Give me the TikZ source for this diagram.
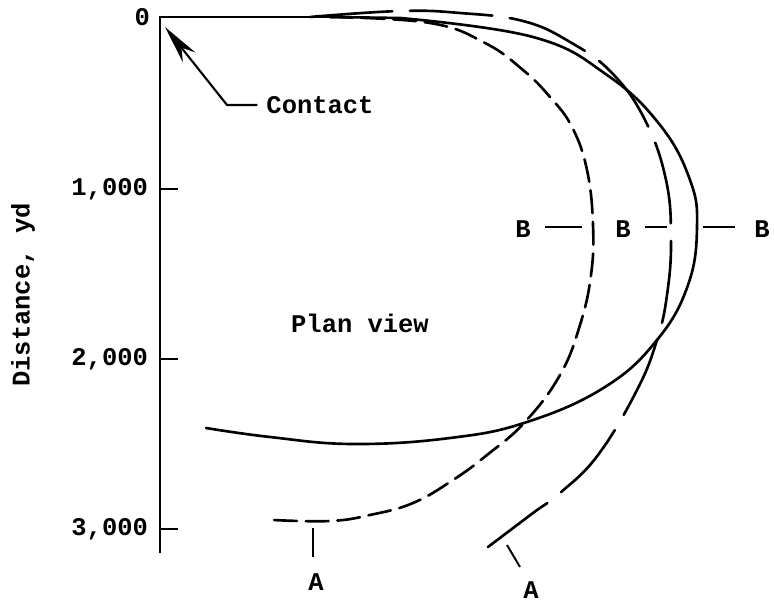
\documentclass[tikz,border=0pt]{standalone}
\usepackage{fontspec}
\setmainfont{Liberation Mono}
\usetikzlibrary{arrows.meta}

\begin{document}
\begin{tikzpicture}[
  x=0.02cm, y=-0.02cm,
  font=\fontsize{14.5}{17}\selectfont\bfseries,
  curve/.style={line width=1.5pt, line join=round, line cap=round},
  shortdash/.style={curve, dash pattern=on 13pt off 5pt},
  longdash/.style={curve, dash pattern=on 47pt off 10pt},
  lead/.style={line width=1.1pt},
  lab/.style={inner sep=1pt}
]
  \useasboundingbox (0,0) rectangle (774,605);

  % axis
  \coordinate (o) at (160,17);
  \coordinate (axend) at (160,553);
  \draw[line width=1.4pt] (axend) -- (o) -- (330,17);
  \node[lab, left] (t0) at (152,17) {0};
  \foreach \y/\t in {1/{1,000}, 2/{2,000}, 3/{3,000}} {
    \coordinate (k\y) at (160,19+170*\y);
    \draw[line width=1.2pt] (k\y) -- ++(18,0);
    \node[lab, left] (t\y) at (150,19+170*\y) {\t};
  }
  \node[rotate=90] (ylab) at (23,295) {Distance, yd};

  % solid curve
  \draw[curve] (330,17) -- plot[smooth, tension=0.7] coordinates {
    (400,18) (533,37) (607,75) (660,125) (690,180) (697,227)
    (688,285) (657,340) (605,387) (527,422) (450,438) (353,444) (270,437) (206,428)};

  % inner dashed curve
  \draw[shortdash] plot[smooth, tension=0.7] coordinates {
    (330,17) (430,23) (485,43) (523,70) (550,97) (572,127)
    (587,170) (593,225) (591,275) (580,325) (560,375)
    (525,422) (487,455) (453,480) (413,503) (370,515) (330,521) (273,520)};

  % outer dashed curve
  \draw[longdash] plot[smooth, tension=0.7] coordinates {
    (310,17) (400,11) (460,13) (523,21) (570,42) (612,73) (645,120)
    (666,180) (671,240) (667,295) (657,340) (637,390) (598,455)
    (560,493) (533,513) (488,547)};

  % contact
  \node[lab] (contact) at (320,105) {Contact};
  \coordinate (bend) at (227,105);
  \coordinate (tip) at (165,27);
  \draw[line width=1.2pt, -{Stealth[length=22pt, width=9pt, inset=7pt]}]
    ([xshift=-4pt]contact.west) -- (bend) -- (tip);

  \node (plan) at (360,323) {Plan view};

  % B marks
  \foreach \n/\x/\a/\b in {1/523/545/582, 2/623/645/667, 3/762/703/735} {
    \node[lab] (b\n) at (\x,229) {B};
    \draw[lead] (\a,227) -- (\b,227);
  }

  % A marks
  \node[lab] (a1) at (316,582) {A};
  \draw[lead] (313,528) -- (313,557);
  \node[lab] (a2) at (531,590) {A};
  \draw[lead] (507,545) -- (520,567);
\end{tikzpicture}
\end{document}
